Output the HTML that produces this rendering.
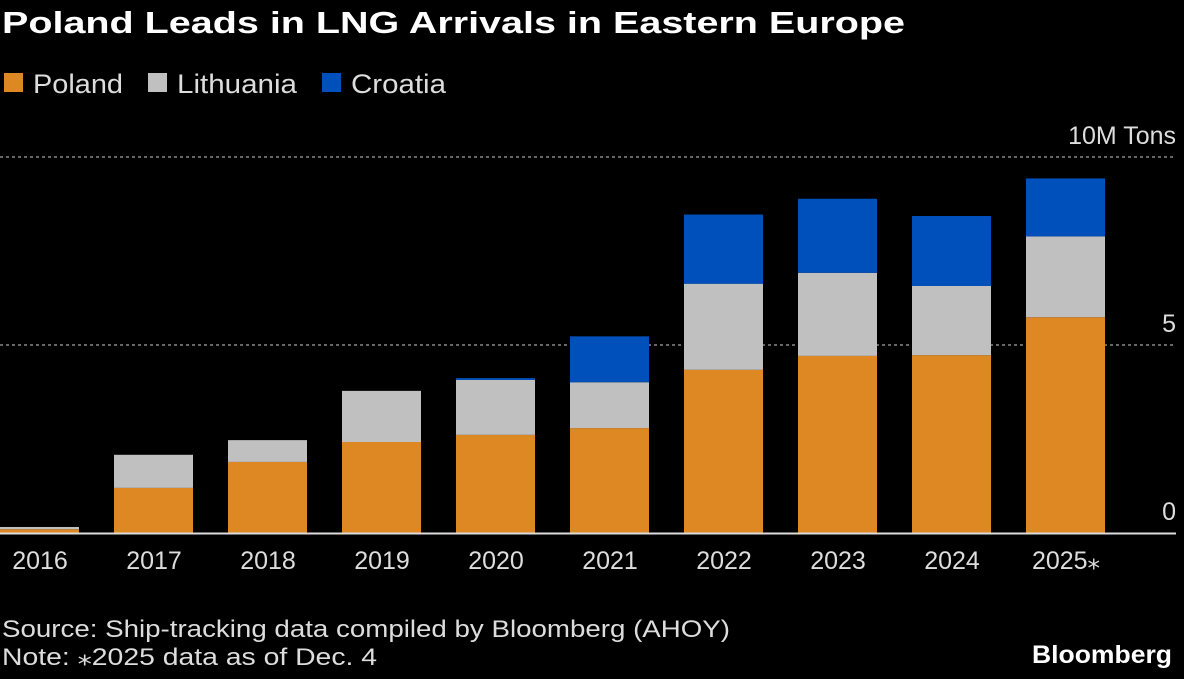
<!DOCTYPE html>
<html><head><meta charset="utf-8"><style>
body{margin:0;background:#000;width:1184px;height:674px;overflow:hidden;font-family:"Liberation Sans",sans-serif;color:#fff}
</style></head><body>
<svg width="1184" height="674">
<text x="2" y="33" font-size="31" font-weight="bold" fill="#fff" textLength="903" lengthAdjust="spacingAndGlyphs">Poland Leads in LNG Arrivals in Eastern Europe</text>
<g>
<rect x="4" y="73" width="19" height="19" fill="#dd8822"/>
<text x="33" y="93" font-size="27" fill="#ddd" textLength="90" lengthAdjust="spacingAndGlyphs">Poland</text>
<rect x="148" y="73" width="19" height="19" fill="#c0c0c0"/>
<text x="177" y="93" font-size="27" fill="#ddd" textLength="120" lengthAdjust="spacingAndGlyphs">Lithuania</text>
<rect x="322" y="73" width="19" height="19" fill="#0050bb"/>
<text x="351" y="93" font-size="27" fill="#ddd" textLength="95" lengthAdjust="spacingAndGlyphs">Croatia</text>
</g>
<g id="plot"></g>
<text x="2" y="637" font-size="24" fill="#ddd" textLength="728" lengthAdjust="spacingAndGlyphs">Source: Ship-tracking data compiled by Bloomberg (AHOY)</text>
<text x="2" y="665" font-size="24" fill="#ddd" textLength="375" lengthAdjust="spacingAndGlyphs">Note: ⁎2025 data as of Dec. 4</text>
<text x="1172" y="663" font-size="25" font-weight="bold" text-anchor="end" fill="#fff" textLength="140" lengthAdjust="spacingAndGlyphs">Bloomberg</text>
</svg>
<script>
const categories=["2016","2017","2018","2019","2020","2021","2022","2023","2024","2025⁎"];
const poland=[0.1,1.2,1.89,2.42,2.61,2.79,4.34,4.71,4.73,5.74];
const lithuania=[0.06,0.88,0.58,1.36,1.46,1.22,2.29,2.21,1.84,2.15];
const croatia=[0,0,0,0,0.05,1.22,1.84,1.97,1.86,1.54];
const ticks=[0,5,10];
const tickLabels=["0","5","10M Tons"];
const NS="http://www.w3.org/2000/svg";
const g=document.getElementById('plot');
const y=v=>533-v*37.6;
const x=i=>i*114;
function mk(t,a){const e=document.createElementNS(NS,t);for(const k in a)e.setAttribute(k,a[k]);g.appendChild(e);return e;}
ticks.forEach((t,i)=>{
 if(t>0){const l=mk('line',{x1:0,x2:1176,y1:y(t),y2:y(t),stroke:'#888','stroke-dasharray':'3,3','stroke-width':1.5});
 
 }
 const tx=mk('text',{x:1176,y:y(t)-13,'font-size':25,fill:'#ddd','text-anchor':'end'});
 tx.textContent=tickLabels[i];
 
 
});
const series=[[poland,'#dd8822','poland'],[lithuania,'#c0c0c0','lithuania'],[croatia,'#0050bb','croatia']];
categories.forEach((c,i)=>{
 let base=0;
 series.forEach(([arr,col,nm])=>{
  const v=arr[i];if(v<=0)return;
  const r=mk('rect',{x:x(i),y:y(base+v),width:79,height:y(base)-y(base+v),fill:col});
  
  
  base+=v;
 });
 const t=mk('text',{x:x(i)+40,y:569,'font-size':25,fill:'#ddd','text-anchor':'middle'});
 t.textContent=c;
 
 
});
const ax=mk('line',{x1:0,x2:1176,y1:533.5,y2:533.5,stroke:'#ddd','stroke-width':2});


</script>
</body></html>
